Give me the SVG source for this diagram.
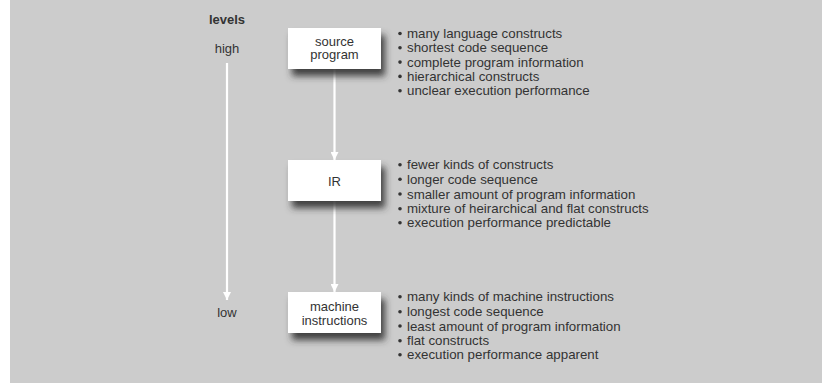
<svg xmlns="http://www.w3.org/2000/svg" width="822" height="383" viewBox="0 0 822 383">
<style>
.t{font-family:"Liberation Sans",Arial,sans-serif;font-size:13.3px;fill:#333}
.b{font-family:"Liberation Sans",Arial,sans-serif;font-size:13px;fill:#333;text-anchor:middle}
.box{fill:#fff;filter:url(#sh)}
.ln{stroke:#fff;stroke-width:2.2;fill:none}
.dot{fill:#333}
</style>
<defs>
<filter id="sh" x="-20%" y="-30%" width="150%" height="180%">
<feDropShadow dx="4" dy="7" stdDeviation="3.5" flood-color="#333" flood-opacity="0.9"/>
</filter>
<marker id="ah" viewBox="0 0 10 10" refX="10" refY="5" markerWidth="8" markerHeight="8" markerUnits="userSpaceOnUse" orient="auto">
<path d="M0,0 L10,5 L0,10 z" fill="#fff"/>
</marker>
</defs>
<rect x="10" y="0" width="812" height="383" fill="#cccccc"/>
<rect x="0" y="0" width="10" height="383" fill="#fff"/>

<g id="levels">
<text class="b" x="227" y="23.5" font-weight="bold" font-size="12">levels</text>
<text class="b" x="227" y="52.5">high</text>
<text class="b" x="227" y="316.5">low</text>
</g>

<g id="connectors">
<line class="ln" x1="227" y1="63" x2="227" y2="300" stroke-width="2.6" marker-end="url(#ah)"/>
<line class="ln" x1="334.5" y1="69" x2="334.5" y2="160" marker-end="url(#ah)"/>
<line class="ln" x1="334.5" y1="201" x2="334.5" y2="292" marker-end="url(#ah)"/>
</g>

<g id="source">
<rect class="box" x="288" y="28" width="93" height="41"/>
<text class="b" x="334.5" y="45.5">source</text>
<text class="b" x="334.5" y="59">program</text>
</g>

<g id="ir">
<rect class="box" x="288" y="160" width="93" height="41"/>
<text class="b" x="334.5" y="185.5">IR</text>
</g>

<g id="machine">
<rect class="box" x="288" y="292" width="93" height="41"/>
<text class="b" x="334.5" y="311">machine</text>
<text class="b" x="334.5" y="324.5">instructions</text>
</g>

<g id="source-list">
<circle class="dot" cx="400" cy="33.5" r="1.8"/><text class="t" x="407" y="38">many language constructs</text>
<circle class="dot" cx="400" cy="47.8" r="1.8"/><text class="t" x="407" y="52.3">shortest code sequence</text>
<circle class="dot" cx="400" cy="62.1" r="1.8"/><text class="t" x="407" y="66.6">complete program information</text>
<circle class="dot" cx="400" cy="76.4" r="1.8"/><text class="t" x="407" y="80.9">hierarchical constructs</text>
<circle class="dot" cx="400" cy="90.7" r="1.8"/><text class="t" x="407" y="95.2">unclear execution performance</text>
</g>

<g id="ir-list">
<circle class="dot" cx="400" cy="164.7" r="1.8"/><text class="t" x="407" y="169.2">fewer kinds of constructs</text>
<circle class="dot" cx="400" cy="179.3" r="1.8"/><text class="t" x="407" y="183.8">longer code sequence</text>
<circle class="dot" cx="400" cy="194" r="1.8"/><text class="t" x="407" y="198.5">smaller amount of program information</text>
<circle class="dot" cx="400" cy="208.7" r="1.8"/><text class="t" x="407" y="213.2">mixture of heirarchical and flat constructs</text>
<circle class="dot" cx="400" cy="222.7" r="1.8"/><text class="t" x="407" y="227.2">execution performance predictable</text>
</g>

<g id="machine-list">
<circle class="dot" cx="400" cy="296.7" r="1.8"/><text class="t" x="407" y="301.2">many kinds of machine instructions</text>
<circle class="dot" cx="400" cy="311.7" r="1.8"/><text class="t" x="407" y="316.2">longest code sequence</text>
<circle class="dot" cx="400" cy="326" r="1.8"/><text class="t" x="407" y="330.5">least amount of program information</text>
<circle class="dot" cx="400" cy="340.7" r="1.8"/><text class="t" x="407" y="345.2">flat constructs</text>
<circle class="dot" cx="400" cy="354.7" r="1.8"/><text class="t" x="407" y="359.2">execution performance apparent</text>
</g>
</svg>
